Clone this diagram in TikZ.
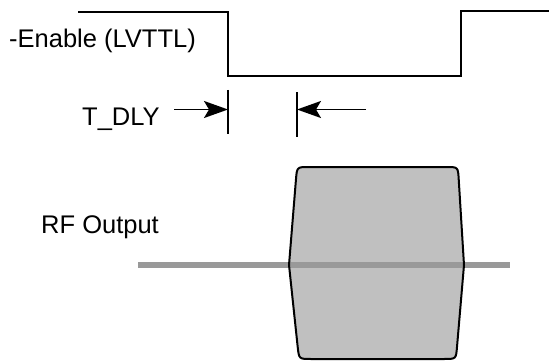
\documentclass[tikz,border=0pt]{standalone}
\usepackage{fontspec}
\setmainfont{Liberation Sans}
\usetikzlibrary{arrows.meta}
\definecolor{shapefill}{HTML}{C0C0C0}
\definecolor{rfline}{HTML}{999999}
\begin{document}
\begin{tikzpicture}[x=1pt,y=-1pt,
  lbl/.style={font=\fontsize{25.5}{30}\selectfont, inner sep=0pt, anchor=base west},
  wave/.style={line width=2pt, line join=miter},
  marker/.style={line width=1.8pt},
  dlyarrow/.style={line width=1.6pt, -{Stealth[length=24pt,width=17pt,inset=5pt]}}]
\useasboundingbox (0,0) rectangle (549,361);
% waveform
\coordinate (w0) at (78,12);
\coordinate (w1) at (228,12);
\coordinate (w2) at (228,76);
\coordinate (w3) at (461,76);
\coordinate (w4) at (461,11);
\coordinate (w5) at (550,11);
\draw[wave] (w0) -- (w1) -- (w2) -- (w3) -- (w4) -- (w5);
\node[lbl] (en) at (9,48) {-Enable (LVTTL)};
% delay markers
\coordinate (m1a) at (228,90);
\coordinate (m1b) at (228,134);
\coordinate (m2a) at (297,92);
\coordinate (m2b) at (297,137);
\draw[marker] (m1a) -- (m1b);
\draw[marker] (m2a) -- (m2b);
\node[lbl] (dly) at (82,125) {T\_DLY};
\coordinate (a1s) at (174,109.5);
\coordinate (a1e) at (228,109.5);
\coordinate (a2s) at (366,109.5);
\coordinate (a2e) at (297,109.5);
\draw[dlyarrow] (a1s) -- (a1e);
\draw[dlyarrow] (a2s) -- (a2e);
% RF output
\node[lbl] (rf) at (41,233) {RF Output};
\fill[shapefill] (289,265) -- (296,179) .. controls (297,167) .. (309,167) -- (446,167) .. controls (458,167) .. (458.7,179) -- (464,265) -- (457,347) .. controls (456,359) .. (444,359) -- (311,359) .. controls (299,359) .. (297.7,347) -- cycle;
\coordinate (r0) at (138,265);
\coordinate (r1) at (510,265);
\draw[rfline, line width=6pt] (r0) -- (r1);
\draw[line width=2pt, line join=round] (289,265) -- (296,179) .. controls (297,167) .. (309,167) -- (446,167) .. controls (458,167) .. (458.7,179) -- (464,265) -- (457,347) .. controls (456,359) .. (444,359) -- (311,359) .. controls (299,359) .. (297.7,347) -- cycle;
\end{tikzpicture}
\end{document}
